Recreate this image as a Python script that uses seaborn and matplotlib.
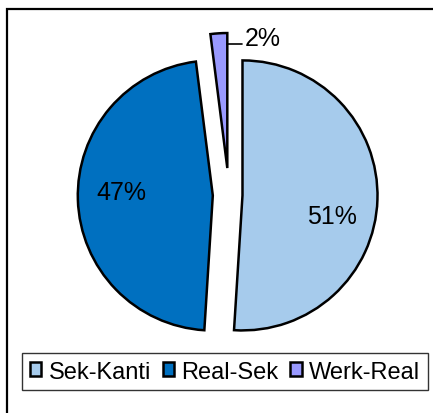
import numpy as np
import matplotlib; matplotlib.use("Agg")
import matplotlib.pyplot as plt
import seaborn as sns
from matplotlib.patches import Rectangle

sns.set_theme(style="white")
plt.rcParams["font.family"] = ["Liberation Sans", "DejaVu Sans"]
plt.rcParams["text.color"] = "black"

# data
labels = ["Sek-Kanti", "Real-Sek", "Werk-Real"]
shares = [51, 47, 2]
colors = ["#A6CBEC", "#0070C0", "#9999FF"]
explode = [0.1, 0.12, 0.2]

W, H = 433, 414
fig = plt.figure(figsize=(W / 100, H / 100), dpi=100)
fig.patch.set_facecolor("white")

# axes placed so that pie centre sits at ~(229,196) px, radius ~135 px
L = 1.35
S = 2 * L * 135
cx, cy = 229, H - 196
ax = fig.add_axes([(cx - S / 2) / W, (cy - S / 2) / H, S / W, S / H])

wedges, _, autotexts = ax.pie(
    shares, colors=colors, explode=explode, startangle=90, counterclock=False,
    autopct=lambda p: f"{p:.0f}%" if p > 5 else "", pctdistance=0.68,
    wedgeprops=dict(edgecolor="black", linewidth=1.8),
    textprops=dict(fontsize=18, color="black"))
ax.set_xlim(-L, L); ax.set_ylim(-L, L); ax.set_aspect("equal")
ax.axis("off")

# nudge inner labels slightly like the original layout
offsets = [-11, -4]
for w, t, off in zip(wedges[:2], autotexts[:2], offsets):
    a = np.deg2rad((w.theta1 + w.theta2) / 2 + off)
    x0, y0 = w.center
    t.set_position((x0 + 0.68 * np.cos(a), y0 + 0.68 * np.sin(a)))

# outside label for the small slice with a short leader line
w = wedges[2]
x0, y0 = w.center
ly = y0 + 0.92
ax.plot([x0, x0 + 0.11], [ly, ly], color="black", lw=1.2)
ax.text(x0 + 0.13, ly - 0.01, f"{shares[2]}%", fontsize=18, ha="left", va="baseline")

leg = fig.legend(wedges, labels, loc="upper left", bbox_to_anchor=(22 / W, 1 - 354 / H),
                 ncol=3, fontsize=17, frameon=True, fancybox=False, borderaxespad=0,
                 handlelength=0.5, handleheight=0.5, handletextpad=0.3,
                 columnspacing=0.5, borderpad=0.32, labelcolor="black")
leg.get_frame().set_edgecolor("black")
leg.get_frame().set_linewidth(1.0)

# outer chart frame (runs off the right/bottom edge as in the original)
fig.patches.append(Rectangle((7 / W, -0.1), 1.2, 1.1 - 10 / H, transform=fig.transFigure,
                             fill=False, edgecolor="black", linewidth=1.6))

fig.savefig("out.png", dpi=100)
